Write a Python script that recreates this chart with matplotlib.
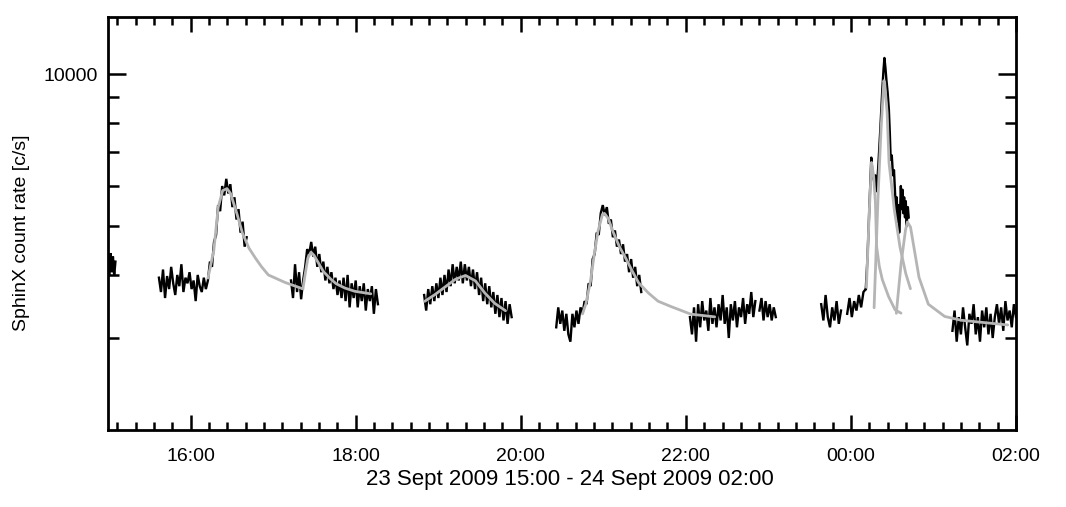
import numpy as np
import matplotlib
matplotlib.use('Agg')
import matplotlib.pyplot as plt
from matplotlib.ticker import FixedLocator, FixedFormatter, NullFormatter

# ---------------- data (time in hours after 23 Sept 2009 15:00, count rate in c/s) -------------
seg1_span = (0.0, 0.09)
seg1_vals = [4200, 3980, 4420, 4050, 4350, 3990, 4250]

seg2_span = (0.617, 1.68)
seg2_vals = [3950, 3700, 4100, 3600, 3980, 3750, 4150, 3850, 3650, 4000,
             3800, 4200, 3700, 3950, 3850, 4050, 3750, 3900, 3550, 4000,
             3800, 3700, 3950, 3750, 3900,
             4250, 4150, 4650, 4800, 5500, 5350, 6000, 5750, 6200, 5800,
             6050, 5450, 5700, 5150, 5400, 4850, 5100, 4550, 4750]

seg3_span = (2.217, 3.27)
seg3_vals = [3900, 3600, 4200, 3700, 4050, 3580, 3900, 4150, 4500, 4400,
             4650, 4350, 4550, 4150, 4400, 4050, 4250, 3900, 4150, 3850,
             4050, 3750, 3950, 3650, 3900, 3600, 3950, 3550, 4000, 3450,
             3850, 3600, 3900, 3450, 3800, 3550, 3850, 3400, 3750, 3550,
             3800, 3350, 3750, 3500]

seg4_span = (3.83, 4.89)
seg4_vals = [3650, 3400, 3750, 3500, 3800, 3550, 3850, 3600, 3950, 3650,
             4000, 3700, 4100, 3800, 4200, 3850, 4150, 3900, 4250, 3850,
             4200, 3900, 4150, 3800, 4100, 3750, 4050, 3650, 3950, 3550,
             3850, 3500, 3800, 3450, 3700, 3350, 3650, 3300, 3600, 3250,
             3550, 3200, 3500, 3300]

seg5_span = (5.43, 6.46)
seg5_vals = [3150, 3450, 3200, 3400, 3100, 3350, 3050, 2950, 3350, 3150,
             3400, 3200, 3450, 3350, 3550, 3500, 3850, 3800, 4300, 4400,
             4850, 4800, 5300, 5500, 5250, 5450, 5050, 5150, 4750, 4900,
             4550, 4700, 4400, 4600, 4250, 4400, 4050, 4300, 3950, 4150,
             3800, 4000, 3700]

seg6_span = (7.05, 8.09)
seg6_vals = [3300, 3050, 3450, 2950, 3500, 3150, 3550, 3250, 3400, 3100,
             3600, 3200, 3450, 3150, 3500, 3250, 3650, 3200, 3450, 3000,
             3500, 3250, 3550, 3150, 3450, 3300, 3600, 3200, 3500, 3350,
             3700, 3300, 3550, np.nan, 3400, 3600, 3250, 3550, 3300, 3500,
             3250, 3450, 3300]

seg7a_span = (8.64, 8.88)
seg7a_vals = [3500, 3250, 3650, 3300, 3150, 3450, 3250, 3550, 3200, 3400]

seg7b_span = (8.955, 9.18)
seg7b_vals = [3350, 3600, 3300, 3550, 3400, 3650, 3450, 3700, 3750]

flare_t = [9.18, 9.20, 9.222, 9.247, 9.262, 9.28, 9.295, 9.31, 9.33, 9.356,
           9.38, 9.395, 9.406, 9.418, 9.43, 9.445, 9.46, 9.472, 9.482, 9.495,
           9.51, 9.522, 9.533, 9.545, 9.555, 9.565, 9.575, 9.585, 9.595, 9.605,
           9.615, 9.625, 9.635, 9.645, 9.655, 9.665, 9.675, 9.69, 9.70]
flare_v = [3750, 4300, 5350, 6830, 6350, 6150, 6300, 5860, 6500, 7760,
           9300, 10200, 10760, 10300, 9740, 9200, 8500, 7600, 6760, 6900,
           6300, 6450, 5900, 5380, 5700, 5100, 5500, 4850, 5300, 6000,
           5400, 5900, 5300, 5700, 5200, 5600, 5000, 5450, 5200]

seg8_span = (10.23, 11.0)
seg8_vals = [3100, 3400, 2950, 3300, 3050, 3450, 3150, 2900, 3350, 3200,
             3500, 3050, 3300, 2950, 3400, 3150, 3450, 3050, 3350, 3000,
             3300, 3500, 3200, 3450, 3100, 3550, 3250, 3400, 3150, 3500, 3300]

# fitted flare profiles (grey curves)
fit1_t = [1.211, 1.282, 1.335, 1.389, 1.442, 1.485, 1.562, 1.629, 1.708, 1.789, 1.859, 1.942, 2.145, 2.361]
fit1_v = [3943, 4477, 5445, 5876, 5930, 5797, 5287, 4840, 4519, 4312, 4154, 4000, 3865, 3754]
fit2_t = [2.361, 2.391, 2.421, 2.459, 2.495, 2.552, 2.61, 2.692, 2.764, 2.87, 2.99, 3.184]
fit2_v = [3754, 4036, 4321, 4437, 4375, 4217, 4062, 3934, 3843, 3768, 3712, 3670]
fit3_t = [3.836, 3.961, 4.085, 4.209, 4.331, 4.451, 4.567, 4.685, 4.816]
fit3_v = [3546, 3657, 3788, 3922, 3990, 3893, 3681, 3514, 3397]
fit4_t = [5.748, 5.789, 5.845, 5.891, 5.936, 5.99, 6.014, 6.061, 6.118, 6.197, 6.278, 6.347,
          6.427, 6.545, 6.664, 6.82, 7.06, 7.35]
fit4_v = [3348, 3503, 3888, 4395, 4880, 5272, 5296, 5171, 4870, 4544, 4298, 4083,
          3862, 3686, 3548, 3463, 3345, 3304]
fitA_t = [9.188, 9.222, 9.25, 9.275, 9.297, 9.311, 9.344, 9.38, 9.456, 9.536, 9.607]
fitA_v = [3780, 5318, 6680, 6283, 5560, 4560, 4160, 3918, 3625, 3410, 3360]
fitB_t = [9.281, 9.329, 9.365, 9.399, 9.409, 9.439, 9.462, 9.526, 9.594, 9.665, 9.721]
fitB_v = [3444, 5730, 7760, 9700, 9600, 8375, 6665, 5384, 4548, 4024, 3756]
fitC_t = [9.55, 9.608, 9.661, 9.684, 9.722, 9.756, 9.825, 9.938, 10.136, 10.336, 10.9]
fitC_v = [3357, 4216, 4904, 5093, 4976, 4611, 3956, 3500, 3310, 3253, 3184]

# axis ticks / labels
xtick_pos = [1, 3, 5, 7, 9, 11]
xtick_labels = ['16:00', '18:00', '20:00', '22:00', '00:00', '02:00']
ytick_major = [10000]
ytick_labels = ['10000']
ytick_minor = [3000, 4000, 5000, 6000, 7000, 8000, 9000]

# ---------------- figure ----------------
plt.rcParams['font.family'] = ['Liberation Sans', 'DejaVu Sans']

W, H = 1066, 507
fig = plt.figure(figsize=(W / 100, H / 100), dpi=100)
ax = fig.add_axes([108 / W, 77 / H, 908 / W, 413 / H])

segments = [(seg1_span, seg1_vals), (seg2_span, seg2_vals), (seg3_span, seg3_vals),
            (seg4_span, seg4_vals), (seg5_span, seg5_vals), (seg6_span, seg6_vals),
            (seg7a_span, seg7a_vals), (seg7b_span, seg7b_vals), (seg8_span, seg8_vals)]
for (t0, t1), vals in segments:
    t = np.linspace(t0, t1, len(vals))
    ax.plot(t, vals, color='black', lw=1.7, solid_joinstyle='miter')
ax.plot(flare_t, flare_v, color='black', lw=1.7)

grey = '#b5b5b5'
for ft, fv in [(fit1_t, fit1_v), (fit2_t, fit2_v), (fit3_t, fit3_v), (fit4_t, fit4_v),
               (fitA_t, fitA_v), (fitB_t, fitB_v), (fitC_t, fitC_v)]:
    ax.plot(ft, fv, color=grey, lw=2.0, solid_joinstyle='round', solid_capstyle='round')

ax.set_yscale('log')
ax.set_xlim(0, 11)
ax.set_ylim(1972, 12970)

ax.xaxis.set_major_locator(FixedLocator(xtick_pos))
ax.xaxis.set_major_formatter(FixedFormatter(xtick_labels))
ax.xaxis.set_minor_locator(FixedLocator(np.arange(1 - 4 * 2 / 9, 11.001, 2 / 9)))
ax.xaxis.set_minor_formatter(NullFormatter())

ax.yaxis.set_major_locator(FixedLocator(ytick_major))
ax.yaxis.set_major_formatter(FixedFormatter(ytick_labels))
ax.yaxis.set_minor_locator(FixedLocator(ytick_minor))
ax.yaxis.set_minor_formatter(NullFormatter())

ax.tick_params(axis='both', which='both', direction='in', top=True, right=True,
               width=1.8, color='black', labelsize=14)
ax.tick_params(axis='x', which='major', length=11, pad=13)
ax.tick_params(axis='x', which='minor', length=6)
ax.tick_params(axis='y', which='major', length=13, pad=7)
ax.tick_params(axis='y', which='minor', length=8)

for sp in ax.spines.values():
    sp.set_linewidth(2.0)
    sp.set_color('black')

fig.text(22 / W, 1 - 233 / H, 'SphinX count rate [c/s]', rotation=90,
         ha='center', va='center', fontsize=14)
fig.text(570 / W, 1 - 480 / H, '23 Sept 2009 15:00 - 24 Sept 2009 02:00',
         ha='center', va='center', fontsize=16)

fig.savefig('out.png', dpi=100)
